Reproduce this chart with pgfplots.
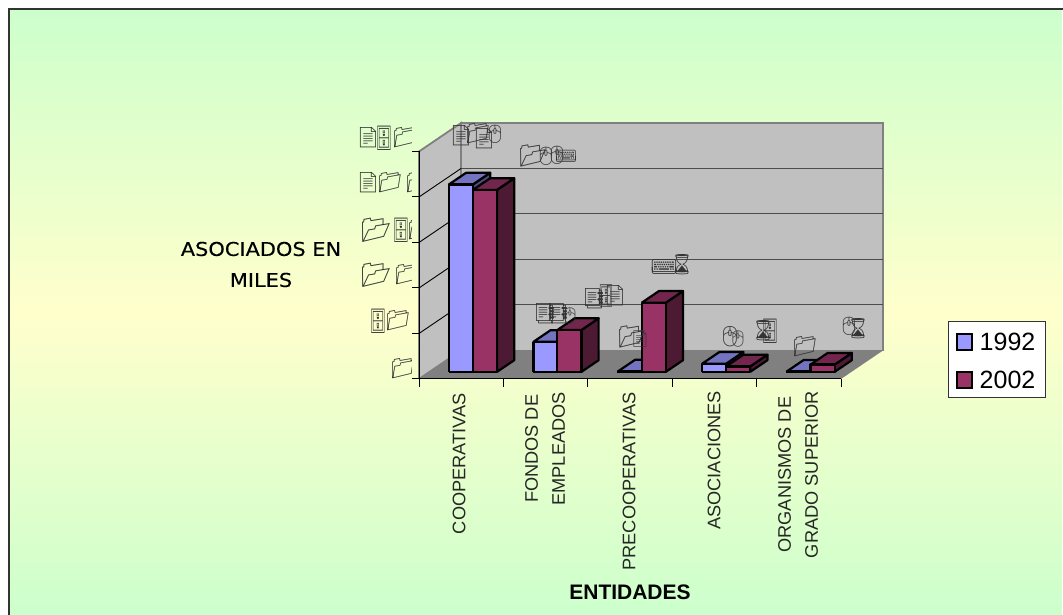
\documentclass[border=0pt]{standalone}
\usepackage{pgfplots}
\pgfplotsset{compat=1.18}
\usepackage{fontspec}
\setmainfont{Liberation Sans}
\newfontfamily\dv[FakeBold=0.25]{DejaVu Sans}
\newfontfamily\emo{Noto Emoji}
\definecolor{blueF}{HTML}{9999FF}\definecolor{blueT}{HTML}{7373BF}\definecolor{blueS}{HTML}{4D4D80}
\definecolor{redF}{HTML}{993366}\definecolor{redT}{HTML}{73264D}\definecolor{redS}{HTML}{4D1A33}
\definecolor{wall}{HTML}{C0C0C0}\definecolor{flo}{HTML}{808080}
\definecolor{gA}{HTML}{CCFFCC}\definecolor{gB}{HTML}{FFFFCC}
% x0, x1, value, front, top, side
\newcommand{\threedbar}[6]{%
  \addplot3[draw=black,line width=2.2pt,line join=round,fill=#6] coordinates {(#2,0.25,0)(#2,0.66,0)(#2,0.66,#3)(#2,0.25,#3)(#2,0.25,0)};
  \addplot3[draw=black,line width=2.2pt,line join=round,fill=#5] coordinates {(#1,0.25,#3)(#2,0.25,#3)(#2,0.66,#3)(#1,0.66,#3)(#1,0.25,#3)};
  \addplot3[draw=black,line width=2.2pt,line join=round,fill=#4] coordinates {(#1,0.25,0)(#2,0.25,0)(#2,0.25,#3)(#1,0.25,#3)(#1,0.25,0)};
}
\newcommand{\wg}[4]{\node[anchor=center,inner sep=0pt,text=black!80] at (#1,{615-#2}) {\fontsize{#3}{#3}\selectfont\emo #4};}
\newcommand{\wgc}[3]{\node[anchor=center,inner sep=0pt,text=black!80,xscale=.55,transform shape] at (#1,{615-#2}) {\fontsize{#3}{#3}\selectfont\emo 🗄};}
\begin{document}
\begin{tikzpicture}[x=1pt,y=1pt]
\useasboundingbox (0,0) rectangle (1063,615);
\fill[white] (0,0) rectangle (1063,615);
% vertical gradient of the chart area: green, yellow, green
\foreach \i in {0,...,151}{
  \pgfmathsetmacro{\p}{100-\i/1.51}
  \fill[gA!\p!gB] (9,{606-2*\i}) rectangle (1062,0);
}
\foreach \i in {0,...,151}{
  \pgfmathsetmacro{\p}{\i/1.51}
  \fill[gA!\p!gB] (9,{304-2*\i}) rectangle (1062,0);
}
\draw[black!80,line width=2pt] (9,0) -- (9,606) -- (1063,606);
\begin{axis}[
  at={(419pt,236pt)},anchor=origin,
  x={(84.4pt,0pt)},y={(42pt,28.5pt)},z={(0pt,0.91pt)},
  xmin=0,xmax=5,ymin=0,ymax=1,zmin=0,zmax=250,
  hide axis,clip=false,
]
% walls and floor
\addplot3[draw=flo,line width=1.8pt,fill=wall] coordinates {(0,0,0)(0,1,0)(0,1,250)(0,0,250)(0,0,0)};
\addplot3[draw=flo,line width=1.8pt,fill=wall] coordinates {(0,1,0)(5,1,0)(5,1,250)(0,1,250)(0,1,0)};
\addplot3[draw=flo,line width=2.8pt] coordinates {(0,1,0)(0,1,250)};
\addplot3[draw=none,fill=flo] coordinates {(0,0,0)(5,0,0)(5,1,0)(0,1,0)(0,0,0)};
% grid lines
\addplot3[black!70,line width=1pt] coordinates {(0,1,50)(5,1,50)};
\addplot3[black!70,line width=1pt] coordinates {(0,1,100)(5,1,100)};
\addplot3[black!70,line width=1pt] coordinates {(0,1,150)(5,1,150)};
\addplot3[black!70,line width=1pt] coordinates {(0,1,200)(5,1,200)};
\addplot3[black,line width=0.9pt] coordinates {(0,0,50)(0,1,50)};
\addplot3[black,line width=0.9pt] coordinates {(0,0,100)(0,1,100)};
\addplot3[black,line width=0.9pt] coordinates {(0,0,150)(0,1,150)};
\addplot3[black,line width=0.9pt] coordinates {(0,0,200)(0,1,200)};
% axis lines and ticks
\addplot3[black,line width=1pt] coordinates {(0,0,0)(0,0,250)};
\addplot3[black,line width=1pt] coordinates {(0,0,0)(5,0,0)};
\addplot3[black,line width=1pt] coordinates {(0,0,0)(0,0,-9)};
\addplot3[black,line width=1pt] coordinates {(1,0,0)(1,0,-9)};
\addplot3[black,line width=1pt] coordinates {(2,0,0)(2,0,-9)};
\addplot3[black,line width=1pt] coordinates {(3,0,0)(3,0,-9)};
\addplot3[black,line width=1pt] coordinates {(4,0,0)(4,0,-9)};
\addplot3[black,line width=1pt] coordinates {(5,0,0)(5,0,-9)};
\addplot3[black,line width=1pt] coordinates {(-0.08,0,0)(0,0,0)};
\addplot3[black,line width=1pt] coordinates {(-0.08,0,50)(0,0,50)};
\addplot3[black,line width=1pt] coordinates {(-0.08,0,100)(0,0,100)};
\addplot3[black,line width=1pt] coordinates {(-0.08,0,150)(0,0,150)};
\addplot3[black,line width=1pt] coordinates {(-0.08,0,200)(0,0,200)};
\addplot3[black,line width=1pt] coordinates {(-0.08,0,250)(0,0,250)};
% bars
\threedbar{0.231}{0.515}{206}{blueF}{blueT}{blueS}
\threedbar{0.515}{0.8}{200}{redF}{redT}{redS}
\threedbar{1.231}{1.515}{33}{blueF}{blueT}{blueS}
\threedbar{1.515}{1.8}{46}{redF}{redT}{redS}
\threedbar{2.231}{2.515}{0.4}{blueF}{blueT}{blueS}
\threedbar{2.515}{2.8}{76}{redF}{redT}{redS}
\threedbar{3.231}{3.515}{9}{blueF}{blueT}{blueS}
\threedbar{3.515}{3.8}{6}{redF}{redT}{redS}
\threedbar{4.231}{4.515}{0.3}{blueF}{blueT}{blueS}
\threedbar{4.515}{4.8}{8}{redF}{redT}{redS}
\end{axis}
% y tick labels (symbol glyphs, clipped at the right as in the reference)
\begin{scope}
\clip (340,230) rectangle (411,500);
\wg{403}{369}{20}{📁}
\wgc{378}{321}{24}\wg{398}{321}{20}{📁}
\wg{376}{275}{24}{📂}\wg{407}{275}{20}{📁}
\wg{376}{230}{24}{📂}\wgc{401}{230}{24}\wg{420}{230}{20}{📁}
\wg{368}{183}{20}{📄}\wg{390}{183}{20}{📁}\wg{418}{183}{20}{📁}
\wg{368}{138}{20}{📄}\wgc{384}{138}{24}\wg{405}{138}{20}{📁}
\end{scope}
% data labels
\wg{461}{136}{20}{📄}\wg{478}{134}{20}{📁}\wg{484}{139}{20}{📄}\wg{495}{134}{18}{🖱}
\wg{533}{156}{22}{📂}\wg{546}{156}{18}{🖱}\wg{557}{155}{18}{🖱}\wg{566}{156}{18}{⌨}
\wg{545}{314}{20}{📑}\wg{558}{314}{20}{📑}\wg{570}{316}{16}{🖱}
\wg{594}{299}{20}{📑}\wgc{606}{296}{22}\wg{615}{296}{20}{📄}
\wg{632}{337}{22}{📂}\wg{640}{339}{16}{📄}
\wg{664}{267}{22}{⌨}\wg{682}{265}{20}{⌛}
\wg{730}{337}{20}{🖱}\wg{738}{339}{16}{🖱}
\wg{763}{331}{20}{⌛}\wgc{770}{331}{24}
\wg{805}{347}{20}{📁}
\wg{849}{326}{18}{🖱}\wg{858}{329}{20}{⌛}
% axis text
\node[xscale=1.1,transform shape,align=center,inner sep=0pt,anchor=center,font=\dv\fontsize{19}{31}\selectfont] at (261,{615-264.5}) {ASOCIADOS EN\\MILES};
\node[font=\bfseries\fontsize{21}{24}\selectfont,inner sep=0pt] at (630,{615-592}) {ENTIDADES};
\tikzset{xl/.style={rotate=90,anchor=east,inner sep=0pt,align=center,font=\fontsize{18.2}{27}\selectfont,text=black!85}}
\node[xl] at (459,{615-393}) {COOPERATIVAS};
\node[xl] at (545,{615-392}) {FONDOS DE\\EMPLEADOS};
\node[xl] at (629,{615-392}) {PRECOOPERATIVAS};
\node[xl] at (714,{615-391}) {ASOCIACIONES};
\node[xl] at (798,{615-391}) {ORGANISMOS DE\\GRADO SUPERIOR};
% legend
\draw[fill=white,draw=black!80,line width=1pt] (948,{615-322}) rectangle (1045,{615-398});
\draw[fill=blueF,draw=black,line width=1.8pt] (957,{615-334}) rectangle (972,{615-350});
\draw[fill=redF,draw=black,line width=1.8pt] (957,{615-372}) rectangle (972,{615-388});
\node[anchor=west,inner sep=0pt,font=\fontsize{25}{26}\selectfont] at (979.5,{615-342}) {1992};
\node[anchor=west,inner sep=0pt,font=\fontsize{25}{26}\selectfont] at (979.5,{615-380}) {2002};
\end{tikzpicture}
\end{document}
